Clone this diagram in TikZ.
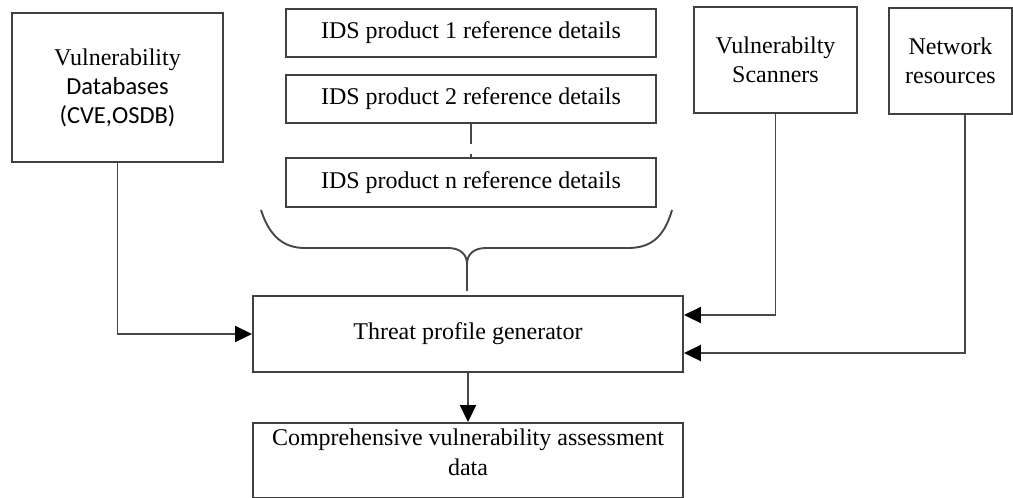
\documentclass[tikz,border=0pt]{standalone}
\usepackage{fontspec}
\setmainfont{Liberation Serif}
\newfontfamily\calibrifont{Carlito}
\usetikzlibrary{arrows.meta}
\tikzset{
  box/.style={draw=black!75, line width=1.9pt, rectangle, inner sep=0pt, align=center,
    font=\fontsize{24}{29}\selectfont},
  link/.style={draw=black!72, line width=1.9pt},
  arr/.style={link, -{Triangle[length=17pt,width=16pt,color=black]}},
}
\begin{document}
\begin{tikzpicture}[x=1pt,y=-1pt]
\useasboundingbox (0,0) rectangle (1013,498);

% source boxes
\node[box, minimum width=211pt, minimum height=149pt] (vdb) at (117.5,87.5)
  {Vulnerability\\{\calibrifont\fontsize{24.5}{29}\selectfont Databases}\\{\calibrifont\fontsize{24.5}{29}\selectfont (CVE,OSDB)}};
\node[box, minimum width=370pt, minimum height=48pt] (ids1) at (471,33) {IDS product 1 reference details};
\node[box, minimum width=370pt, minimum height=48pt] (ids2) at (471,99) {IDS product 2 reference details};
\node[box, minimum width=370pt, minimum height=49pt] (idsn) at (471,182.5) {IDS product n reference details};
\node[box, minimum width=163pt, minimum height=106pt] (scan) at (775.5,60) {Vulnerabilty\\Scanners};
\node[box, minimum width=123pt, minimum height=106pt] (net) at (950.5,61) {Network\\resources};

% generator and output
\node[box, minimum width=430pt, minimum height=76pt] (threat) at (468,334) {Threat profile generator};
\node[box, minimum width=430pt, minimum height=75pt] (comp) at (468,460.5) {};
\node[font=\fontsize{24}{30}\selectfont, align=center] (comptext) at (468,452)
  {Comprehensive vulnerability assessment\\data};

% ellipsis between product 2 and product n
\draw[link, dash pattern=on 20pt off 10pt] (ids2.south) -- (idsn.north);

% brace gathering the IDS products
\coordinate (bl) at (261,210);
\coordinate (br) at (672,210);
\coordinate (tip) at (467,264);
\coordinate (stemend) at (467,291);
\draw[link] (bl) .. controls (270,238) and (285,248) .. (305,248) -- (448,248)
  .. controls (461,248) and (467,255) .. (tip)
  .. controls (467,255) and (473,248) .. (486,248) -- (628,248)
  .. controls (650,248) and (664,238) .. (br);
\draw[link] (tip) -- (stemend);

% connectors into the generator
\draw[arr] (vdb.south) |- (threat.west);
\draw[arr] (scan.south) |- ([yshift=19pt]threat.east);
\draw[arr] ([xshift=14.5pt]net.south) |- ([yshift=-19pt]threat.east);
\draw[arr] (threat.south) -- (comp.north);
\end{tikzpicture}
\end{document}
